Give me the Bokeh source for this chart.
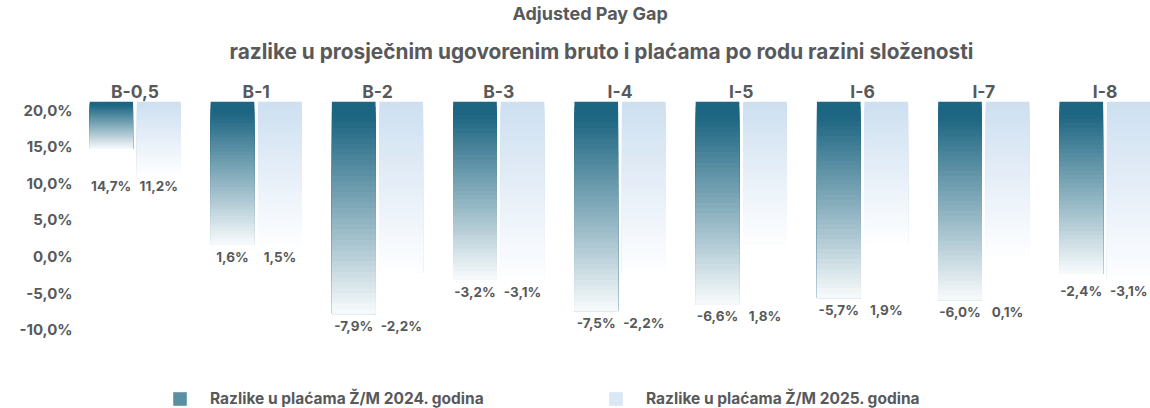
from bokeh.plotting import figure
from bokeh.models import Range1d, FixedTicker, Title, Legend, LegendItem, ColumnDataSource
from bokeh.core.properties import value
from bokeh.embed import file_html
from bokeh.resources import INLINE

# ---- data ----
groups = ["B-0,5", "B-1", "B-2", "B-3", "I-4", "I-5", "I-6", "I-7", "I-8"]
gap_2024 = [14.7, 1.6, -7.9, -3.2, -7.5, -6.6, -5.7, -6.0, -2.4]
gap_2025 = [11.2, 1.5, -2.2, -3.1, -2.2, 1.8, 1.9, 0.1, -3.1]
y_ticks = [-10, -5, 0, 5, 10, 15, 20]
series_names = ["Razlike u plaćama Ž/M 2024. godina", "Razlike u plaćama Ž/M 2025. godina"]
title_main = "Adjusted Pay Gap"
title_sub = "razlike u prosječnim ugovorenim bruto i plaćama po rodu razini složenosti"

# ---- style ----
FONT = "Inter"
TXT = "#58595b"
Y_TOP = 21.2
Y_BOTTOM = -20.8
BAR_OFF = 0.196
BAR_W = 0.36
N_SLICES = 40
top_24, end_24 = (29, 102, 130), (249, 251, 252)
top_25, end_25 = (205, 223, 240), (254, 254, 255)


def fmt(v):
    return f"{v:.1f}%".replace(".", ",")


def mix(c0, c1, t):
    return "#%02x%02x%02x" % tuple(int(round(a + (b - a) * t)) for a, b in zip(c0, c1))


def gradient_source(vals, offset, c0, c1, hold):
    xs, tops, bots, cols = [], [], [], []
    for i, v in enumerate(vals):
        for k in range(N_SLICES):
            t0 = Y_TOP - (Y_TOP - v) * k / N_SLICES
            tm = (k + 0.5) / N_SLICES
            f = max(0.0, (tm - hold) / (1 - hold))
            xs.append(i + offset)
            tops.append(t0)
            bots.append(v)
            cols.append(mix(c0, c1, f))
    return ColumnDataSource(dict(x=xs, top=tops, bottom=bots, color=cols))


p = figure(width=1150, height=408, output_backend="svg", toolbar_location=None,
           x_range=Range1d(-0.375, 8.375), y_range=Range1d(Y_BOTTOM, Y_TOP),
           x_axis_location="above", min_border_left=89, min_border_right=0,
           min_border_bottom=0, min_border_top=101)
p.outline_line_color = None
p.grid.visible = False
p.background_fill_color = "white"

src24 = gradient_source(gap_2024, -BAR_OFF, top_24, end_24, 0.08)
src25 = gradient_source(gap_2025, BAR_OFF, top_25, end_25, 0.0)
r24 = p.vbar(x="x", width=BAR_W, top="top", bottom="bottom", fill_color="color",
             line_color=None, source=src24)
r25 = p.vbar(x="x", width=BAR_W, top="top", bottom="bottom", fill_color="color",
             line_color=None, source=src25)

# value labels
lx, ly, lt = [], [], []
for i, (a, b) in enumerate(zip(gap_2024, gap_2025)):
    yl = min(a, b) - 1.6
    lx += [i - BAR_OFF, i + BAR_OFF]
    ly += [yl, yl]
    lt += [fmt(a), fmt(b)]
p.text(x=lx, y=ly, text=lt, text_align="center", text_baseline="middle",
       text_font=value(FONT), text_font_style="bold", text_font_size="13.5px",
       text_color=TXT)

# axes
xa = p.xaxis[0]
xa.ticker = FixedTicker(ticks=list(range(len(groups))))
xa.major_label_overrides = {i: g for i, g in enumerate(groups)}
xa.axis_line_color = None
xa.major_tick_line_color = None
xa.minor_tick_line_color = None
xa.major_tick_out = 0
xa.major_tick_in = 0
xa.minor_tick_out = 0
xa.major_label_text_font = FONT
xa.major_label_text_font_style = "bold"
xa.major_label_text_font_size = "17.5px"
xa.major_label_text_color = TXT
xa.major_label_standoff = 0

ya = p.yaxis[0]
ya.ticker = FixedTicker(ticks=y_ticks)
ya.major_label_overrides = {t: fmt(t) for t in y_ticks}
ya.axis_line_color = None
ya.major_tick_line_color = None
ya.minor_tick_line_color = None
ya.major_tick_out = 0
ya.major_tick_in = 0
ya.minor_tick_out = 0
ya.major_label_text_font = FONT
ya.major_label_text_font_style = "bold"
ya.major_label_text_font_size = "15px"
ya.major_label_text_color = TXT
ya.major_label_standoff = 17

sub = Title(text=title_sub, align="left", offset=140, text_font=FONT,
            text_font_style="bold", text_font_size="20.8px", text_color=TXT,
            standoff=27)
main = Title(text=title_main, align="left", offset=423, text_font=FONT,
             text_font_style="bold", text_font_size="18px", text_color=TXT,
             standoff=0)
p.add_layout(sub, "above")
p.add_layout(main, "above")

legend = Legend(items=[LegendItem(label=series_names[0], renderers=[r24], index=N_SLICES // 3),
                       LegendItem(label=series_names[1], renderers=[r25], index=N_SLICES // 4)],
                location=(82, 0), orientation="horizontal", glyph_width=17, glyph_height=17,
                label_standoff=22, label_width=397, spacing=0, padding=0, margin=0,
                background_fill_alpha=0, border_line_alpha=0,
                label_text_font=FONT, label_text_font_style="bold",
                label_text_font_size="15.5px", label_text_color=TXT)
p.add_layout(legend, "center")

open("out.html", "w").write(file_html(p, INLINE))
